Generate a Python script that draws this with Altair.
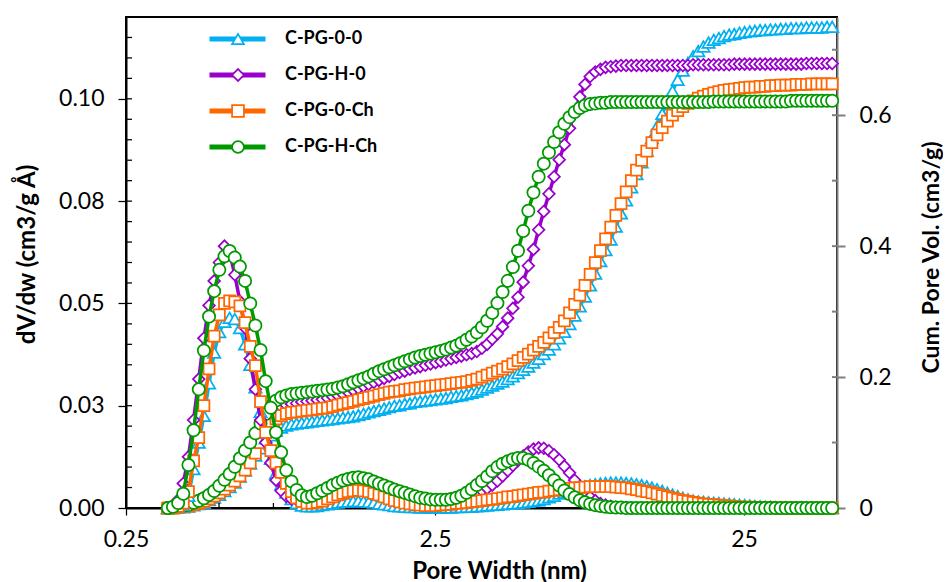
import altair as alt
import pandas as pd

SERIES = ["C-PG-0-0", "C-PG-H-0", "C-PG-0-Ch", "C-PG-H-Ch"]
COLORS = ["#00B0F0", "#9900CC", "#FF6600", "#009900"]
SHAPES = ["triangle-up", "diamond", "square", "circle"]

# pore widths (nm)
WIDTHS = [
    0.3415, 0.3548, 0.3687, 0.3831, 0.3981, 0.4137, 0.4299, 0.4467, 0.4642, 0.4823,
    0.5012, 0.5208, 0.5412, 0.5623, 0.5843, 0.6072, 0.6310, 0.6556, 0.6813, 0.7079,
    0.7356, 0.7644, 0.7943, 0.8254, 0.8577, 0.8913, 0.9261, 0.9624, 1.0000, 1.0391,
    1.0798, 1.1220, 1.1659, 1.2115, 1.2589, 1.3082, 1.3594, 1.4125, 1.4678, 1.5252,
    1.5849, 1.6469, 1.7113, 1.7783, 1.8478, 1.9201, 1.9953, 2.0733, 2.1544, 2.2387,
    2.3263, 2.4173, 2.5119, 2.6102, 2.7123, 2.8184, 2.9286, 3.0432, 3.1623, 3.2860,
    3.4145, 3.5481, 3.6869, 3.8312, 3.9811, 4.1369, 4.2987, 4.4668, 4.6416, 4.8232,
    5.0119, 5.2080, 5.4117, 5.6234, 5.8434, 6.0720, 6.3096, 6.5564, 6.8129, 7.0795,
    7.3564, 7.6442, 7.9433, 8.2540, 8.5770, 8.9125, 9.2612, 9.6235, 10.000, 10.391,
    10.798, 11.220, 11.659, 12.115, 12.589, 13.082, 13.594, 14.125, 14.678, 15.252,
    15.849, 16.469, 17.113, 17.783, 18.478, 19.201, 19.953, 20.733, 21.544, 22.387,
    23.263, 24.173, 25.119, 26.102, 27.123, 28.184, 29.286, 30.432, 31.623, 32.860,
    34.145, 35.481, 36.869, 38.312, 39.811, 41.369, 42.987, 44.668, 46.416, 48.232,
]

# dV/dw (cm3/g A)
DV_00 = [
    0.0000, 0.0001, 0.0003, 0.0008, 0.0030, 0.0095, 0.0160, 0.0225, 0.0305, 0.0380,
    0.0430, 0.0455, 0.0465, 0.0462, 0.0440, 0.0400, 0.0350, 0.0295, 0.0235, 0.0170,
    0.0120, 0.0085, 0.0058, 0.0038, 0.0022, 0.0012, 0.0006, 0.0004, 0.0004, 0.0005,
    0.0007, 0.0009, 0.0011, 0.0013, 0.0015, 0.0016, 0.0017, 0.0017, 0.0016, 0.0015,
    0.0013, 0.0011, 0.0009, 0.0007, 0.0005, 0.0004, 0.0003, 0.0002, 0.0002, 0.0001,
    0.0001, 0.0001, 0.0001, 0.0001, 0.0001, 0.0001, 0.0002, 0.0002, 0.0003, 0.0003,
    0.0004, 0.0005, 0.0006, 0.0007, 0.0008, 0.0009, 0.0010, 0.0011, 0.0012, 0.0013,
    0.0015, 0.0017, 0.0019, 0.0022, 0.0026, 0.0030, 0.0035, 0.0039, 0.0043, 0.0047,
    0.0050, 0.0053, 0.0056, 0.0058, 0.0060, 0.0061, 0.0062, 0.0062, 0.0062, 0.0061,
    0.0060, 0.0058, 0.0056, 0.0053, 0.0050, 0.0046, 0.0042, 0.0037, 0.0033, 0.0029,
    0.0025, 0.0021, 0.0018, 0.0016, 0.0015, 0.0014, 0.0013, 0.0012, 0.0011, 0.0010,
    0.0009, 0.0008, 0.0007, 0.0006, 0.0005, 0.0004, 0.0003, 0.0003, 0.0002, 0.0002,
    0.0002, 0.0001, 0.0001, 0.0001, 0.0001, 0.0000, 0.0000, 0.0000, 0.0000, 0.0000,
]
DV_H0 = [
    0.0000, 0.0005, 0.0020, 0.0060, 0.0125, 0.0215, 0.0315, 0.0415, 0.0495, 0.0555,
    0.0600, 0.0640, 0.0625, 0.0570, 0.0505, 0.0440, 0.0365, 0.0290, 0.0215, 0.0160,
    0.0110, 0.0068, 0.0042, 0.0028, 0.0022, 0.0020, 0.0020, 0.0022, 0.0025, 0.0030,
    0.0035, 0.0041, 0.0047, 0.0052, 0.0056, 0.0059, 0.0061, 0.0061, 0.0060, 0.0057,
    0.0053, 0.0048, 0.0043, 0.0038, 0.0033, 0.0029, 0.0025, 0.0021, 0.0018, 0.0016,
    0.0015, 0.0015, 0.0016, 0.0017, 0.0019, 0.0021, 0.0024, 0.0027, 0.0030, 0.0034,
    0.0037, 0.0042, 0.0048, 0.0056, 0.0066, 0.0078, 0.0091, 0.0104, 0.0116, 0.0127,
    0.0137, 0.0144, 0.0147, 0.0146, 0.0140, 0.0130, 0.0118, 0.0102, 0.0086, 0.0068,
    0.0052, 0.0038, 0.0027, 0.0018, 0.0011, 0.0007, 0.0004, 0.0002, 0.0001, 0.0001,
    0.0000, 0.0000, 0.0000, 0.0000, 0.0000, 0.0000, 0.0000, 0.0000, 0.0000, 0.0000,
    0.0000, 0.0000, 0.0000, 0.0000, 0.0000, 0.0000, 0.0000, 0.0000, 0.0000, 0.0000,
    0.0000, 0.0000, 0.0000, 0.0000, 0.0000, 0.0000, 0.0000, 0.0000, 0.0000, 0.0000,
    0.0000, 0.0000, 0.0000, 0.0000, 0.0000, 0.0000, 0.0000, 0.0000, 0.0000, 0.0000,
]
DV_0CH = [
    0.0000, 0.0001, 0.0004, 0.0012, 0.0040, 0.0115, 0.0172, 0.0250, 0.0340, 0.0420,
    0.0472, 0.0500, 0.0506, 0.0504, 0.0494, 0.0453, 0.0395, 0.0348, 0.0260, 0.0185,
    0.0140, 0.0110, 0.0087, 0.0060, 0.0040, 0.0025, 0.0016, 0.0012, 0.0012, 0.0014,
    0.0017, 0.0022, 0.0027, 0.0032, 0.0036, 0.0040, 0.0042, 0.0043, 0.0042, 0.0040,
    0.0036, 0.0032, 0.0027, 0.0022, 0.0018, 0.0015, 0.0012, 0.0010, 0.0008, 0.0007,
    0.0006, 0.0006, 0.0006, 0.0007, 0.0008, 0.0009, 0.0011, 0.0012, 0.0013, 0.0015,
    0.0016, 0.0018, 0.0020, 0.0021, 0.0023, 0.0025, 0.0027, 0.0028, 0.0030, 0.0032,
    0.0034, 0.0036, 0.0038, 0.0039, 0.0041, 0.0043, 0.0045, 0.0046, 0.0048, 0.0049,
    0.0050, 0.0051, 0.0052, 0.0052, 0.0052, 0.0052, 0.0052, 0.0051, 0.0050, 0.0049,
    0.0047, 0.0045, 0.0042, 0.0040, 0.0037, 0.0034, 0.0030, 0.0027, 0.0024, 0.0021,
    0.0018, 0.0016, 0.0014, 0.0012, 0.0010, 0.0009, 0.0008, 0.0007, 0.0006, 0.0005,
    0.0004, 0.0003, 0.0002, 0.0002, 0.0001, 0.0001, 0.0001, 0.0001, 0.0000, 0.0000,
    0.0000, 0.0000, 0.0000, 0.0000, 0.0000, 0.0000, 0.0000, 0.0000, 0.0000, 0.0000,
]
DV_HCH = [
    0.0000, 0.0003, 0.0012, 0.0035, 0.0105, 0.0190, 0.0290, 0.0385, 0.0468, 0.0530,
    0.0582, 0.0615, 0.0628, 0.0612, 0.0590, 0.0555, 0.0500, 0.0446, 0.0386, 0.0310,
    0.0245, 0.0185, 0.0136, 0.0092, 0.0065, 0.0044, 0.0031, 0.0027, 0.0030, 0.0036,
    0.0042, 0.0049, 0.0056, 0.0062, 0.0067, 0.0071, 0.0074, 0.0075, 0.0073, 0.0070,
    0.0065, 0.0060, 0.0055, 0.0050, 0.0045, 0.0041, 0.0037, 0.0033, 0.0029, 0.0025,
    0.0023, 0.0021, 0.0020, 0.0020, 0.0020, 0.0022, 0.0025, 0.0030, 0.0037, 0.0046,
    0.0056, 0.0066, 0.0077, 0.0090, 0.0100, 0.0108, 0.0114, 0.0119, 0.0122, 0.0122,
    0.0118, 0.0110, 0.0101, 0.0091, 0.0080, 0.0068, 0.0055, 0.0043, 0.0034, 0.0026,
    0.0019, 0.0014, 0.0010, 0.0007, 0.0005, 0.0003, 0.0002, 0.0001, 0.0001, 0.0000,
    0.0000, 0.0000, 0.0000, 0.0000, 0.0000, 0.0000, 0.0000, 0.0000, 0.0000, 0.0000,
    0.0000, 0.0000, 0.0000, 0.0000, 0.0000, 0.0000, 0.0000, 0.0000, 0.0000, 0.0000,
    0.0000, 0.0000, 0.0000, 0.0000, 0.0000, 0.0000, 0.0000, 0.0000, 0.0000, 0.0000,
    0.0000, 0.0000, 0.0000, 0.0000, 0.0000, 0.0000, 0.0000, 0.0000, 0.0000, 0.0000,
]

# cumulative pore volume (cm3/g)
CUM_00 = [
    0.000, 0.000, 0.001, 0.001, 0.002, 0.004, 0.006, 0.008, 0.012, 0.016,
    0.020, 0.026, 0.032, 0.039, 0.048, 0.057, 0.068, 0.080, 0.091, 0.102,
    0.111, 0.118, 0.123, 0.126, 0.128, 0.129, 0.130, 0.131, 0.132, 0.133,
    0.134, 0.135, 0.136, 0.137, 0.138, 0.139, 0.140, 0.142, 0.144, 0.146,
    0.148, 0.150, 0.152, 0.154, 0.156, 0.157, 0.159, 0.160, 0.162, 0.163,
    0.164, 0.165, 0.166, 0.167, 0.168, 0.170, 0.171, 0.172, 0.174, 0.176,
    0.178, 0.181, 0.184, 0.187, 0.190, 0.193, 0.197, 0.201, 0.206, 0.211,
    0.216, 0.222, 0.228, 0.235, 0.242, 0.250, 0.259, 0.269, 0.281, 0.294,
    0.308, 0.323, 0.340, 0.358, 0.377, 0.394, 0.410, 0.430, 0.450, 0.470,
    0.490, 0.510, 0.528, 0.546, 0.565, 0.583, 0.602, 0.620, 0.637, 0.654,
    0.668, 0.680, 0.690, 0.698, 0.705, 0.711, 0.715, 0.718, 0.721, 0.723,
    0.724, 0.726, 0.727, 0.728, 0.729, 0.730, 0.730, 0.731, 0.731, 0.732,
    0.732, 0.733, 0.733, 0.733, 0.734, 0.734, 0.734, 0.734, 0.735, 0.735,
]
CUM_H0 = [
    0.000, 0.001, 0.002, 0.003, 0.005, 0.008, 0.012, 0.016, 0.022, 0.028,
    0.036, 0.044, 0.054, 0.065, 0.077, 0.088, 0.100, 0.112, 0.125, 0.137,
    0.145, 0.151, 0.155, 0.157, 0.159, 0.160, 0.162, 0.163, 0.164, 0.165,
    0.166, 0.168, 0.170, 0.172, 0.174, 0.177, 0.180, 0.183, 0.186, 0.189,
    0.192, 0.195, 0.198, 0.201, 0.204, 0.207, 0.209, 0.212, 0.214, 0.216,
    0.218, 0.220, 0.222, 0.224, 0.226, 0.228, 0.230, 0.232, 0.234, 0.236,
    0.239, 0.244, 0.250, 0.258, 0.266, 0.277, 0.290, 0.305, 0.322, 0.345,
    0.370, 0.395, 0.425, 0.453, 0.480, 0.506, 0.532, 0.555, 0.580, 0.604,
    0.628, 0.647, 0.659, 0.666, 0.670, 0.673, 0.674, 0.675, 0.676, 0.676,
    0.676, 0.676, 0.676, 0.676, 0.676, 0.676, 0.676, 0.676, 0.676, 0.676,
    0.676, 0.676, 0.677, 0.677, 0.677, 0.677, 0.677, 0.677, 0.677, 0.677,
    0.678, 0.678, 0.678, 0.678, 0.678, 0.678, 0.678, 0.678, 0.678, 0.678,
    0.678, 0.678, 0.678, 0.678, 0.679, 0.679, 0.679, 0.679, 0.679, 0.679,
]
CUM_0CH = [
    0.000, 0.000, 0.001, 0.002, 0.003, 0.005, 0.007, 0.010, 0.014, 0.018,
    0.023, 0.029, 0.035, 0.041, 0.049, 0.058, 0.069, 0.084, 0.100, 0.115,
    0.127, 0.136, 0.141, 0.144, 0.146, 0.147, 0.148, 0.149, 0.150, 0.151,
    0.152, 0.153, 0.155, 0.157, 0.159, 0.161, 0.163, 0.165, 0.167, 0.169,
    0.171, 0.173, 0.175, 0.177, 0.178, 0.179, 0.181, 0.182, 0.183, 0.184,
    0.185, 0.186, 0.187, 0.188, 0.189, 0.190, 0.191, 0.192, 0.193, 0.195,
    0.197, 0.200, 0.203, 0.206, 0.209, 0.212, 0.216, 0.220, 0.225, 0.230,
    0.235, 0.241, 0.247, 0.253, 0.260, 0.268, 0.276, 0.286, 0.298, 0.311,
    0.325, 0.340, 0.357, 0.375, 0.393, 0.411, 0.429, 0.447, 0.465, 0.483,
    0.500, 0.516, 0.531, 0.545, 0.558, 0.570, 0.581, 0.591, 0.600, 0.607,
    0.613, 0.618, 0.622, 0.626, 0.629, 0.632, 0.634, 0.636, 0.638, 0.639,
    0.640, 0.641, 0.642, 0.643, 0.643, 0.644, 0.644, 0.645, 0.645, 0.646,
    0.646, 0.646, 0.647, 0.647, 0.647, 0.648, 0.648, 0.648, 0.648, 0.648,
]
CUM_HCH = [
    0.000, 0.001, 0.002, 0.003, 0.005, 0.008, 0.011, 0.015, 0.020, 0.026,
    0.034, 0.043, 0.052, 0.063, 0.076, 0.088, 0.100, 0.114, 0.129, 0.144,
    0.156, 0.164, 0.169, 0.172, 0.174, 0.175, 0.176, 0.177, 0.178, 0.179,
    0.180, 0.181, 0.182, 0.184, 0.186, 0.189, 0.192, 0.195, 0.198, 0.201,
    0.205, 0.209, 0.212, 0.215, 0.218, 0.221, 0.224, 0.227, 0.230, 0.232,
    0.234, 0.236, 0.238, 0.240, 0.242, 0.245, 0.248, 0.252, 0.257, 0.262,
    0.268, 0.276, 0.286, 0.298, 0.313, 0.330, 0.347, 0.368, 0.393, 0.423,
    0.454, 0.482, 0.506, 0.526, 0.543, 0.559, 0.574, 0.587, 0.597, 0.605,
    0.611, 0.615, 0.617, 0.618, 0.619, 0.619, 0.620, 0.620, 0.620, 0.620,
    0.620, 0.620, 0.620, 0.620, 0.620, 0.620, 0.620, 0.620, 0.620, 0.620,
    0.620, 0.620, 0.620, 0.620, 0.620, 0.620, 0.621, 0.621, 0.621, 0.621,
    0.621, 0.621, 0.621, 0.621, 0.621, 0.621, 0.621, 0.621, 0.621, 0.621,
    0.621, 0.622, 0.622, 0.622, 0.622, 0.622, 0.622, 0.622, 0.622, 0.622,
]

X_MAJOR = [0.25, 2.5, 25]
X_MINOR = [0.25, 0.5, 0.75, 1.0, 1.25, 1.5, 1.75, 2.0, 2.25, 2.5,
           5.0, 7.5, 10.0, 12.5, 15.0, 17.5, 20.0, 22.5, 25.0]
YL_MAJOR = [0.0, 0.025, 0.05, 0.075, 0.1]
YL_LABELS = ["0.00", "0.03", "0.05", "0.08", "0.10"]
YL_MINOR = [0.000, 0.005, 0.010, 0.015, 0.020, 0.025, 0.030, 0.035, 0.040, 0.045,
            0.050, 0.055, 0.060, 0.065, 0.070, 0.075, 0.080, 0.085, 0.090, 0.095,
            0.100, 0.105, 0.110, 0.115]
YR_MAJOR = [0.0, 0.2, 0.4, 0.6]
YR_MINOR = [0.1, 0.2, 0.3, 0.4, 0.5, 0.6, 0.7]

W, H = 711, 491
FONT = "Lato"
GRAY = "#7F7F7F"
MARKER_SIZES = [150, 135, 121, 150]
TICK_FS = 23
TITLE_FS = 24


def label_expr(vals, labels):
    expr = "''"
    for v, lab in reversed(list(zip(vals, labels))):
        expr = f"abs(datum.value - {v}) < 1e-9 ? '{lab}' : ({expr})"
    return expr


x_scale = alt.Scale(type="log", domain=[0.25, 50], nice=False)
yl_scale = alt.Scale(domain=[0, 0.12], nice=False, zero=False)
yr_scale = alt.Scale(domain=[0, 0.75], nice=False, zero=False)
c_scale = alt.Scale(domain=SERIES, range=COLORS)
# reversed domain keeps the marker legend separate from the line legend
m_stroke_scale = alt.Scale(domain=SERIES[::-1], range=COLORS[::-1])
m_shape_scale = alt.Scale(domain=SERIES[::-1], range=SHAPES[::-1])

x_axis = alt.Axis(
    values=X_MAJOR, format="~g", grid=False, tickSize=7, tickColor="black", tickWidth=1.25,
    domainColor="black", domainWidth=2, labelFont=FONT, labelFontSize=TICK_FS, labelColor="black",
    labelPadding=13, labelFlush=False, labelOverlap=False,
    title="Pore Width (nm)", titleFont=FONT, titleFontSize=TITLE_FS, titleFontWeight="bold",
    titleColor="black", titleX=373, titleY=70, titleAlign="center", titleBaseline="alphabetic",
)
yl_axis = alt.Axis(
    orient="left", values=YL_MAJOR, labelExpr=label_expr(YL_MAJOR, YL_LABELS), grid=False,
    tickSize=8, tickColor="black", tickWidth=1.25, domainColor="black", domainWidth=2,
    labelFont=FONT, labelFontSize=TICK_FS, labelColor="black", labelPadding=14,
    title="dV/dw (cm3/g Å)", titleFont=FONT, titleFontSize=TITLE_FS, titleFontWeight="bold",
    titleColor="black", titleAngle=270, titleX=-99, titleY=237, titleAlign="center",
    titleBaseline="middle",
)
yr_axis = alt.Axis(
    orient="right", values=YR_MAJOR, format="~g", grid=False, tickSize=8, tickColor=GRAY,
    tickWidth=2, domainColor=GRAY, domainWidth=2, labelFont=FONT, labelFontSize=TICK_FS,
    labelColor="black", labelPadding=14,
    title="Cum. Pore Vol. (cm3/g)", titleFont=FONT, titleFontSize=23, titleFontWeight="bold",
    titleColor="black", titleAngle=270, titleX=94, titleY=240, titleAlign="center",
    titleBaseline="middle",
)

line_legend = alt.Legend(
    orient="none", legendX=81, legendY=12, title=None, direction="vertical",
    symbolType="stroke", symbolStrokeWidth=5, symbolSize=3136,
    labelFont=FONT, labelFontSize=18, labelFontWeight="bold", labelColor="black",
    labelOffset=17, rowPadding=16, clipHeight=20, padding=0,
)
marker_legend = alt.Legend(
    orient="none", legendX=103, legendY=12, title=None, direction="vertical",
    values=SERIES, symbolSize=140, symbolFillColor="white", symbolStrokeWidth=1.75,
    labelExpr="''", labelFontSize=18, rowPadding=16, clipHeight=20, padding=0,
)

X_ENC = alt.X("w:Q", scale=x_scale, axis=x_axis)


def series_layers(value_lists, y_scale, y_axis):
    layers = []
    for name, vals, size in zip(SERIES, value_lists, MARKER_SIZES):
        df = pd.DataFrame({"w": WIDTHS, "v": vals, "s": name})
        yenc = alt.Y("v:Q", scale=y_scale, axis=y_axis)
        base = alt.Chart(df)
        line = base.mark_line(strokeWidth=3.5).encode(
            x=X_ENC, y=yenc,
            color=alt.Color("s:N", scale=c_scale, legend=line_legend),
        )
        pts = base.mark_point(filled=True, fill="white", opacity=1, strokeWidth=1.75,
                              size=size).encode(
            x=X_ENC, y=yenc,
            stroke=alt.Stroke("s:N", scale=m_stroke_scale, legend=marker_legend),
            shape=alt.Shape("s:N", scale=m_shape_scale, legend=marker_legend),
        )
        layers += [line, pts]
    return layers


# inward minor ticks
x_minor = alt.Chart(pd.DataFrame({"w": X_MINOR})).mark_rule(color="black", strokeWidth=1.25).encode(
    x=X_ENC, y=alt.value(H), y2=alt.value(H - 5))
yl_minor = alt.Chart(pd.DataFrame({"v": YL_MINOR})).mark_rule(color="black", strokeWidth=1.25).encode(
    y=alt.Y("v:Q", scale=yl_scale, axis=yl_axis), x=alt.value(0), x2=alt.value(6))
yr_minor = alt.Chart(pd.DataFrame({"v": YR_MINOR})).mark_rule(color=GRAY, strokeWidth=2).encode(
    y=alt.Y("v:Q", scale=yr_scale, axis=yr_axis), x=alt.value(W - 5), x2=alt.value(W))

cum_group = alt.layer(yr_minor, *series_layers([CUM_00, CUM_H0, CUM_0CH, CUM_HCH],
                                                yr_scale, yr_axis))
dv_group = alt.layer(x_minor, yl_minor, *series_layers([DV_00, DV_H0, DV_0CH, DV_HCH],
                                                         yl_scale, yl_axis))

chart = (
    alt.layer(cum_group, dv_group)
    .resolve_scale(y="independent")
    .properties(
        width=W, height=H,
        padding={"left": 118, "top": 9, "right": 106, "bottom": 74},
        autosize=alt.AutoSizeParams(type="none"),
    )
    .configure_view(stroke="black", strokeWidth=2)
)

chart.save("out.html", embed_options={"renderer": "svg", "actions": False})
